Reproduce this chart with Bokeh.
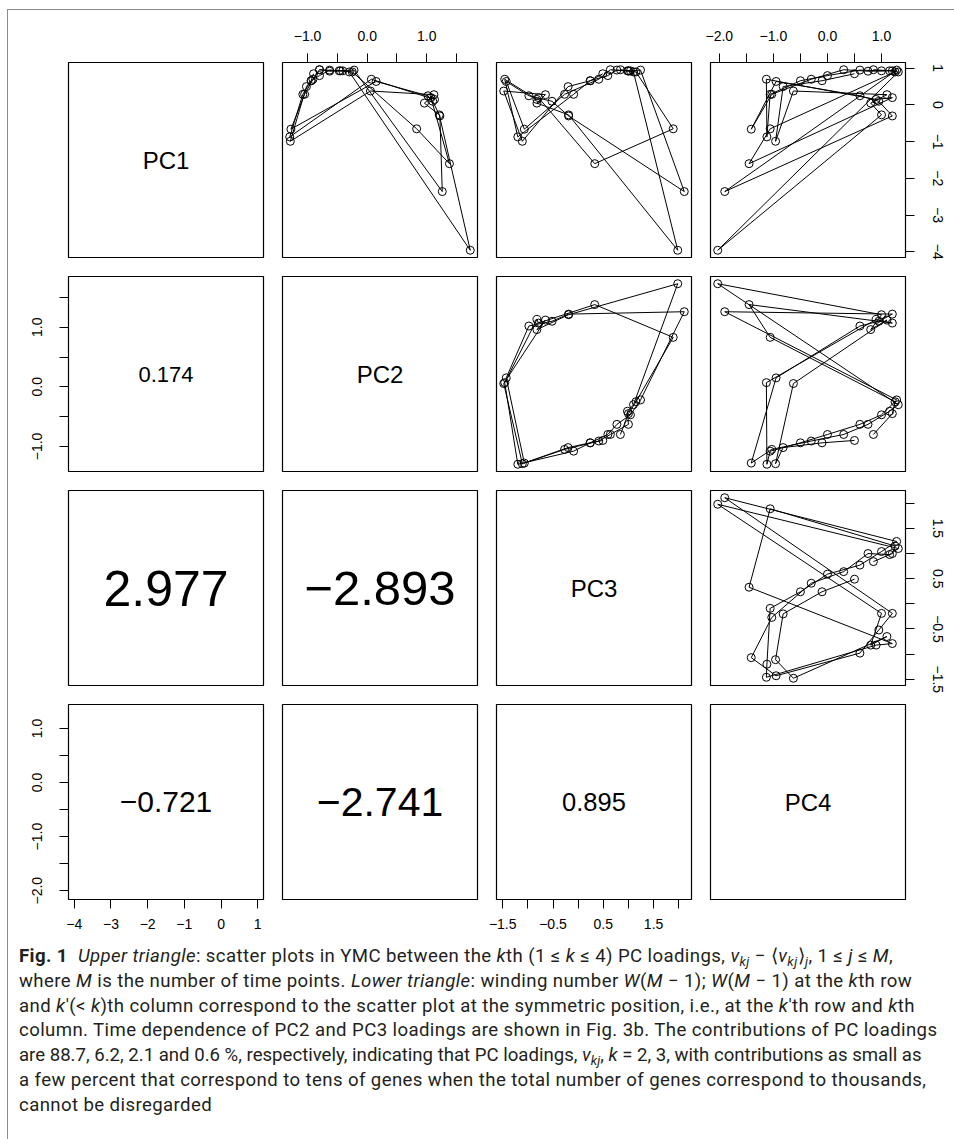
from bokeh.plotting import figure
from bokeh.models import Range1d, LinearAxis, FixedTicker, CustomJSTickFormatter, Div
from bokeh.layouts import column, row
from bokeh.embed import file_html
from bokeh.resources import INLINE
from bokeh.core.properties import value

# ---- data: PC loadings (36 time points, in time order) ----
pc1 = [0.96, 0.93, 0.90, -0.65, -1.60,
       0.20, 0.15, 0.70, -0.87, 0.29, 0.66, 0.80, 0.95, 0.93, 0.95, -2.36, -0.30,
       0.10, 0.25, 0.64, -0.66, 0.29, 0.70, 0.96, 0.92, 0.93, 0.90, -3.96, -0.27,
       0.05, 0.28, 0.38, -0.99, 0.50, 0.66, 0.85]
pc2 = [-0.80, -0.45, -0.25, 0.83, 1.38,
       1.07, 1.13, 0.07, -1.30, -1.08, -0.94, -0.80, -0.63, -0.47, -0.22, 1.26, 1.22,
       1.10, 1.02, 0.15, -1.28, -1.05, -0.91, -0.80, -0.63, -0.41, -0.30, 1.73, 1.21,
       0.96, 1.12, 0.055, -1.29, -1.02, -0.94, -0.90]
pc3 = [0.84, 1.00, 1.15, 1.89, 0.33,
       -0.79, -0.82, -1.46, -1.20, -0.09, 0.24, 0.59, 0.77, 1.04, 1.24, 2.11, -0.19,
       -0.52, -0.98, -1.43, -1.07, -0.27, 0.41, 0.64, 1.00, 0.98, 1.10, 1.98, -0.19,
       -0.82, -0.65, -1.48, -1.11, -0.20, 0.24, 0.49]
pc4 = [0.85, 1.20, 1.25, -1.06, -1.45,
       1.20, 0.90, -1.13, -1.12, -1.06, -0.50, 0.00, 0.60, 1.00, 1.28, -1.90, 1.20,
       0.95, 0.60, -0.95, -1.41, -1.03, -0.30, 0.30, 0.75, 1.15, 1.31, -2.03, 1.00,
       0.80, 1.10, -0.63, -0.96, -0.82, -0.10, 0.50]

names = ["PC1", "PC2", "PC3", "PC4"]
# winding numbers W(M-1) in the lower triangle: (row, col)
wind_cells = [(1, 0), (2, 0), (2, 1), (3, 0), (3, 1), (3, 2)]
wind_vals = ["0.174", "2.977", "\u22122.893", "\u22120.721", "\u22122.741", "0.895"]
wind_size = [22, 50, 49, 30, 41, 25.5]

# tick positions of each variable
ticks_pc1 = [-4, -3, -2, -1, 0, 1]
ticks_pc2 = [-1.0, -0.5, 0.0, 0.5, 1.0, 1.5]
ticks_pc3 = [-1.5, -1.0, -0.5, 0.0, 0.5, 1.0, 1.5, 2.0]
ticks_pc4 = [-2.0, -1.5, -1.0, -0.5, 0.0, 0.5, 1.0]

data = [pc1, pc2, pc3, pc4]
ticks = [ticks_pc1, ticks_pc2, ticks_pc3, ticks_pc4]

fmt_int = """return (tick < 0 ? '\\u2212' : '') + Math.abs(tick).toFixed(0);"""
fmt_one = """const r = Math.round(tick);
if (Math.abs(tick - r) > 1e-6) return '';
return (r < 0 ? '\\u2212' : '') + Math.abs(r).toFixed(1);"""
fmt_half = """const h = Math.round(tick * 2);
if (Math.abs(tick * 2 - h) > 1e-6 || Math.abs(h % 2) != 1) return '';
return (tick < 0 ? '\\u2212' : '') + Math.abs(tick).toFixed(1);"""
fmts = [fmt_int, fmt_one, fmt_half, fmt_one]

ranges_x, ranges_y = [], []
for d in data:
    lo, hi = min(d), max(d)
    pad = 0.04 * (hi - lo)
    ranges_x.append(Range1d(lo - pad, hi + pad))
    ranges_y.append(Range1d(lo - pad, hi + pad))

FRAME = 195
col_b = [(60, 10), (9, 10), (9, 10), (9, 40)]
row_b = [(52, 10), (9, 10), (9, 10), (9, 36)]

FONT = "Liberation Sans"


def make_axis(k, side):
    ax = LinearAxis(ticker=FixedTicker(ticks=ticks[k]),
                    formatter=CustomJSTickFormatter(code=fmts[k]))
    ax.axis_line_color = None
    ax.major_tick_out = 9
    ax.major_tick_in = 0
    ax.major_tick_line_color = "black"
    ax.major_tick_line_width = 1
    ax.minor_tick_line_color = None
    ax.major_label_text_font = FONT
    ax.major_label_text_font_size = "14px"
    ax.major_label_text_color = "black"
    if side == "left":
        ax.major_label_orientation = "vertical"
        ax.major_label_standoff = 17
    elif side == "right":
        ax.major_label_orientation = "vertical"
        ax.major_label_standoff = 18
    elif side == "above":
        ax.major_label_standoff = 13
    else:
        ax.major_label_standoff = 10
    return ax


grid_rows = []
for i in range(4):
    r = []
    for j in range(4):
        lb, rb = col_b[j]
        tb, bb = row_b[i]
        p = figure(width=lb + FRAME + rb, height=tb + FRAME + bb,
                   x_range=ranges_x[j], y_range=ranges_y[i],
                   output_backend="svg", toolbar_location=None, tools="",
                   x_axis_location=None, y_axis_location=None,
                   min_border_left=lb, min_border_right=rb,
                   min_border_top=tb, min_border_bottom=bb)
        p.grid.visible = False
        p.outline_line_color = "black"
        p.outline_line_width = 1.2
        p.outline_line_alpha = 1
        p.background_fill_color = "white"
        p.border_fill_color = "white"
        xm = (ranges_x[j].start + ranges_x[j].end) / 2
        ym = (ranges_y[i].start + ranges_y[i].end) / 2
        if i == j:
            p.text(x=[xm], y=[ym], text=[names[i]], text_align="center",
                   text_baseline="middle", text_font=value(FONT),
                   text_font_size="24px", text_color="black")
        elif j > i:
            p.line(data[j], data[i], line_color="black", line_width=1)
            p.scatter(data[j], data[i], marker="circle", size=8,
                      fill_color=None, line_color="black", line_width=1)
        else:
            k = wind_cells.index((i, j))
            p.text(x=[xm], y=[ym], text=[wind_vals[k]], text_align="center",
                   text_baseline="middle", text_font=value(FONT),
                   text_font_size=f"{wind_size[k]}px", text_color="black")
        # axes like R pairs(): alternating sides
        if i == 0 and j % 2 == 1:
            p.add_layout(make_axis(j, "above"), "above")
        if i == 3 and j % 2 == 0:
            p.add_layout(make_axis(j, "below"), "below")
        if j == 0 and i % 2 == 1:
            p.add_layout(make_axis(i, "left"), "left")
        if j == 3 and i % 2 == 0:
            p.add_layout(make_axis(i, "right"), "right")
        r.append(p)
    grid_rows.append(row(*r))

SUB = '<sub style="font-size:70%; line-height:0; vertical-align:-0.3em;">'
caption_html = f"""
<div style="font-family: 'Roboto', sans-serif; font-size: 18.6px; letter-spacing: 0.4px;
 line-height: 24.8px; color: #231f20; white-space: nowrap; padding-left: 6px; padding-top: 4px;">
<b>Fig. 1</b>&nbsp; <i>Upper triangle</i>: scatter plots in YMC between the <i>k</i>th (1 &le; <i>k</i> &le; 4) PC loadings, <i>v</i>{SUB}<i>kj</i></sub> &minus; &lang;<i>v</i>{SUB}<i>kj</i></sub>&rang;{SUB}<i>j</i></sub>, 1 &le; <i>j</i> &le; <i>M</i>,<br>
where <i>M</i> is the number of time points. <i>Lower triangle</i>: winding number <i>W</i>(<i>M</i> &minus; 1); <i>W</i>(<i>M</i> &minus; 1) at the <i>k</i>th row<br>
and <i>k</i>&prime;(&lt; <i>k</i>)th column correspond to the scatter plot at the symmetric position, i.e., at the <i>k</i>&prime;th row and <i>k</i>th<br>
column. Time dependence of PC2 and PC3 loadings are shown in Fig. 3b. The contributions of PC loadings<br>
<span style="letter-spacing: 0px;">are 88.7, 6.2, 2.1 and 0.6 %, respectively, indicating that PC loadings, <i>v</i>{SUB}<i>kj</i></sub>, <i>k</i> = 2, 3, with contributions as small as</span><br>
a few percent that correspond to tens of genes when the total number of genes correspond to thousands,<br>
cannot be disregarded
</div>
"""
caption = Div(text=caption_html, width=937, height=198)

layout = column(*grid_rows, caption,
                styles={"border": "1px solid #8c8c8c", "margin": "9px 0 0 7px"})

open("out.html", "w").write(file_html(layout, INLINE))
